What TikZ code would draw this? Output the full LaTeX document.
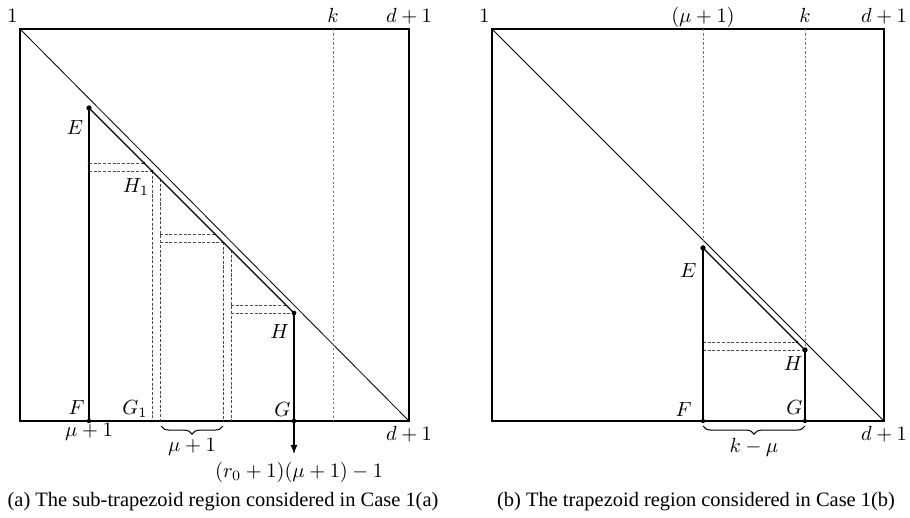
\documentclass[tikz,border=0pt]{standalone}
\usepackage[no-math]{fontspec}
\usepackage{amsmath}
\newfontfamily\capfont{Liberation Serif}
\usetikzlibrary{arrows.meta, positioning, calc, decorations.pathreplacing}
\tikzset{
  frame/.style={draw, line width=1pt},
  diagline/.style={draw, line width=0.4pt},
  edgeline/.style={draw, line width=0.5pt},
  slantline/.style={draw, line width=0.6pt},
  stepline/.style={draw=black!70, line width=0.45pt, dash pattern=on 1.5pt off 0.8pt},
  guideline/.style={draw=black!55, line width=0.45pt, dash pattern=on 1pt off 1.2pt},
  bracemark/.style={draw, line width=0.5pt, decorate, decoration={brace, mirror, amplitude=4pt}},
  lbl/.style={inner sep=1pt},
  toplbl/.style={anchor=base, yshift=3pt, inner sep=1pt},
  caption/.style={font=\capfont\fontsize{10}{12}\selectfont}
}

\begin{document}
\begin{tikzpicture}[x=0.0172cm, y=-0.0172cm]
  \useasboundingbox (0,0) rectangle (910,518);

  % Left panel: frame and diagonal
  \coordinate (aTL) at (20,29);
  \coordinate (aTR) at (409,29);
  \coordinate (aBR) at (409,421);
  \coordinate (aK) at (333,29);
  \coordinate (aKb) at (333,421);
  \draw[frame] (aTL) rectangle (aBR);
  \draw[diagline] (aTL) -- (aBR);
  \draw[guideline] (aK) -- (aKb);

  \node[toplbl, anchor=base east] at (aTL) {$1$};
  \node[toplbl] at (aK) {$k$};
  \node[toplbl] at (aTR) {$d+1$};
  \node[lbl, below=1.2pt of aBR] {$d+1$};

  % Left panel: sub-trapezoid
  \coordinate (aE) at (89,108);
  \coordinate (aF) at (89,421);
  \coordinate (aH) at (294,313);
  \coordinate (aG) at (294,421);
  \coordinate (aH1) at (152,171);
  \coordinate (aG1) at (152,421);
  \coordinate (aGout) at (294,454);

  % Staircase of slabs
  \foreach \xs in {89,160,231} {
    \pgfmathsetmacro{\ye}{\xs+19}
    \draw[stepline] (\xs,\ye+55) -- (\xs+55,\ye+55);
    \draw[stepline] (\xs,\ye+63) -- (\xs+63,\ye+63);
  }
  \foreach \xs in {89,160} {
    \pgfmathsetmacro{\ye}{\xs+19}
    \draw[stepline] (\xs+63,\ye+63) -- (\xs+63,421);
    \draw[stepline] (\xs+71,\ye+71) -- (\xs+71,421);
  }

  \draw[edgeline] (aE) -- (aF);
  \draw[slantline] (aE) -- (aH);
  \draw[edgeline] (aH) -- (aG);
  \draw[edgeline, -{Latex[length=4.5pt, width=3.4pt]}] (aG) -- (aGout);

  \fill (aE) circle[radius=1.3pt];
  \fill (aH) circle[radius=1.15pt];
  \fill (aG) circle[radius=1.15pt];
  \fill (aF) circle[radius=1.1pt];
  \fill (89,163) circle[radius=0.65pt];
  \fill (144,163) circle[radius=0.65pt];
  \fill (aH1) circle[radius=0.65pt];
  \fill (aG1) circle[radius=0.65pt];

  \node[lbl, below left=4.9pt and 1.7pt of aE] {$E$};
  \node[lbl, below left=2.5pt and 0.2pt of aH1] {$H_1$};
  \node[lbl, below left=4.4pt and 1.2pt of aH] {$H$};
  \node[lbl, above left=2pt and 1pt of aF] {$F$};
  \node[lbl, above left=0.5pt and 1pt of aG1] {$G_1$};
  \node[lbl, above left=1pt and 0.5pt of aG] {$G$};
  \node[lbl, below=0pt of aF] {$\mu+1$};
  \node[lbl, below=3pt of aGout, xshift=2.5pt] {$(r_0+1)(\mu+1)-1$};

  \coordinate (aB1) at (161,426);
  \coordinate (aB2) at (223,426);
  \draw[bracemark] (aB1) -- (aB2) node[lbl, midway, below=5pt] {$\mu+1$};

  % Right panel: frame and diagonal
  \coordinate (bTL) at (492,29);
  \coordinate (bTR) at (884,29);
  \coordinate (bBR) at (884,421);
  \coordinate (bM) at (703,29);
  \coordinate (bK) at (805,29);
  \draw[frame] (bTL) rectangle (bBR);
  \draw[diagline] (bTL) -- (bBR);

  \node[toplbl, anchor=base east] at (bTL) {$1$};
  \node[toplbl] at (bM) {$(\mu+1)$};
  \node[toplbl] at (bK) {$k$};
  \node[toplbl] at (bTR) {$d+1$};
  \node[lbl, below=1.2pt of bBR] {$d+1$};

  % Right panel: trapezoid
  \coordinate (bE) at (703,248);
  \coordinate (bF) at (703,421);
  \coordinate (bH) at (805,350);
  \coordinate (bG) at (805,421);
  \draw[guideline] (bM) -- (bE);
  \draw[guideline] (bK) -- (bH);

  \draw[stepline] (703,342) -- (797,342);
  \draw[stepline] (703,350) -- (bH);

  \draw[edgeline] (bE) -- (bF);
  \draw[slantline] (bE) -- (bH);
  \draw[edgeline] (bH) -- (bG);

  \fill (bE) circle[radius=1.3pt];
  \fill (bH) circle[radius=1.3pt];
  \fill (bF) circle[radius=1.05pt];
  \fill (bG) circle[radius=1.05pt];
  \fill (703,342) circle[radius=0.65pt];
  \fill (703,350) circle[radius=0.65pt];
  \fill (797,342) circle[radius=0.65pt];

  \node[lbl, below left=6.4pt and 2pt of bE] {$E$};
  \node[lbl, below left=2pt and 0pt of bH] {$H$};
  \node[lbl, above left=1pt and 4.4pt of bF] {$F$};
  \node[lbl, above left=2pt and 0pt of bG] {$G$};

  \coordinate (bB1) at (703,426);
  \coordinate (bB2) at (805,426);
  \draw[bracemark] (bB1) -- (bB2) node[lbl, midway, below=5pt] {$k-\mu$};

  % Captions
  \node[caption] (capA) at (223,502) {(a) The sub-trapezoid region considered in Case 1(a)};
  \node[caption] (capB) at (696,502) {(b) The trapezoid region considered in Case 1(b)};
\end{tikzpicture}
\end{document}
